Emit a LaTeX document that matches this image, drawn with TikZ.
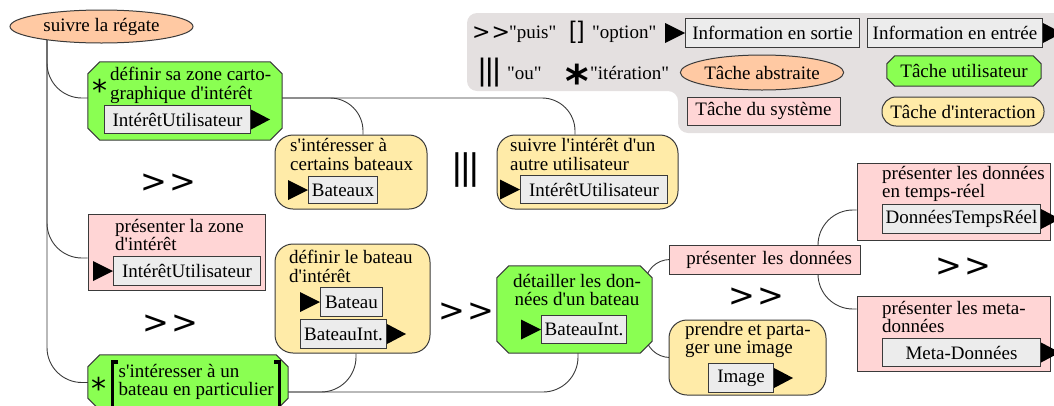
\documentclass[tikz,border=0pt]{standalone}
\usepackage{fontspec}
\setmainfont{Liberation Serif}[Ligatures=TeXOff]
\newfontfamily\symfont{DejaVu Sans}
\newfontfamily\barfont{Liberation Sans}
\usetikzlibrary{shapes.geometric}
\pgfdeclarelayer{panel}
\pgfdeclarelayer{links}
\pgfdeclarelayer{octs}
\pgfsetlayers{panel,links,octs,main}
\definecolor{bordc}{HTML}{3A3A3A}
\definecolor{ugreen}{HTML}{8AFF52}
\definecolor{spink}{HTML}{FFD5D5}
\definecolor{iyellow}{HTML}{FFEBA8}
\definecolor{apeach}{HTML}{FFC9A3}
\definecolor{igray}{HTML}{ECECEC}
\definecolor{legbg}{HTML}{E4E0E0}
\tikzset{
  bord/.style={draw=bordc, line width=1pt},
  usertask/.style={rectangle, inner sep=0pt},
  systask/.style={bord, fill=spink, rectangle, inner sep=0pt},
  intertask/.style={bord, fill=iyellow, rectangle, rounded corners=18pt, inner sep=0pt},
  abstask/.style={bord, fill=apeach, ellipse, inner sep=0pt},
  info/.style={bord, fill=igray, rectangle, inner sep=0pt, anchor=north west},
  title/.style={inner sep=0pt, align=left, anchor=north west},
  plain/.style={inner sep=0pt, anchor=base west},
  seqsym/.style={inner sep=0pt, anchor=base west, font=\symfont\fontsize{32}{32}\selectfont},
  orsym/.style={inner sep=0pt, anchor=base west, font=\barfont\fontsize{37}{37}\selectfont},
  itsym/.style={inner sep=0pt, anchor=base west, font=\symfont\fontsize{30}{30}\selectfont},
  conn/.style={draw=bordc, line width=0.9pt},
  tri/.pic={\fill[black] (0,-10) -- (19,0) -- (0,10) -- cycle;},
  tril/.pic={\fill[black] (-20,-10) -- (0,0) -- (-20,10) -- cycle;},
  brk/.style={line width=3.5pt, black}
}
% green octagon (chamfered box) drawn behind the node named #2
\newcommand\octo[2][11]{%
  \begin{pgfonlayer}{octs}
  \draw[bord, fill=ugreen] ([xshift=#1pt]#2.north west) -- ([xshift=-#1pt]#2.north east)
    -- ([yshift=-#1pt]#2.north east) -- ([yshift=#1pt]#2.south east)
    -- ([xshift=-#1pt]#2.south east) -- ([xshift=#1pt]#2.south west)
    -- ([yshift=#1pt]#2.south west) -- ([yshift=-#1pt]#2.north west) -- cycle;
  \end{pgfonlayer}}
\begin{document}
\begin{tikzpicture}[x=1pt,y=-1pt,font=\fontsize{19}{18.5}\selectfont]
\useasboundingbox (0,0) rectangle (1054,405);

% ---------- legend ----------
\node[seqsym, font=\symfont\fontsize{22}{22}\selectfont] (lseq) at (472,39) {>\kern1pt>};
\node[plain] (lpuis) at (509,38) {"puis"};
\node[plain, font=\barfont\fontsize{24}{24}\selectfont] (lopt) at (569,38.5) {[\kern2pt]};
\node[plain] (loption) at (592,38) {"option"};
\node[info, minimum width=174pt, minimum height=29pt] (lout) at (685,18) {Information en sortie};
\pic at (lout.west) {tril};
\node[info, minimum width=175pt, minimum height=29pt] (lin) at (867,18) {Information en entrée};
\pic at (lin.east) {tri};
\node[orsym, font=\barfont\fontsize{31}{31}\selectfont] (lor) at (478,80.5) {|\kern-0.8pt|\kern-0.8pt|};
\node[plain] (lou) at (507,79) {"ou"};
\node[plain, font=\symfont\bfseries\fontsize{45}{45}\selectfont] (last) at (565,97) {*};
\node[plain] (liter) at (590,79) {"itération"};
\node[abstask, minimum width=148pt, minimum height=35pt] (labs) at (762,72.5) {Tâche abstraite};
\node[usertask, minimum width=154pt, minimum height=30pt] (luser) at (964,71) {Tâche utilisateur};
\octo[8]{luser}
\node[systask, minimum width=153pt, minimum height=28pt] (lsys) at (763.5,111) {Tâche du système};
\node[intertask, rounded corners=14pt, minimum width=162pt, minimum height=29pt] (linter) at (963,111.5) {Tâche d'interaction};

% ---------- tasks ----------
\node[abstask, minimum width=183pt, minimum height=33pt] (root) at (101.5,26.5) {suivre la régate};
\coordinate (trunk) at (47,30);

% définir sa zone
\node[usertask, minimum width=194pt, minimum height=78pt] (zone) at (185,101) {};
\octo[12]{zone}
\node[title] (zonet) at (110,67) {définir sa zone carto-\\graphique d'intérêt};
\node[itsym] (zast) at (92,101.5) {*};
\node[info, minimum width=146pt, minimum height=28pt] (zoneo) at (104,105) {IntérêtUtilisateur};
\pic at (zoneo.east) {tri};

% s'intéresser à certains bateaux
\node[intertask, minimum width=152pt, minimum height=74pt] (cert) at (351,172) {};
\node[title] (certt) at (290,138.5) {s'intéresser à\\certains bateaux};
\node[info, minimum width=69pt, minimum height=27pt] (certi) at (308,176) {Bateaux};
\pic at (certi.west) {tril};

\node[orsym] (or1) at (452,179) {|\kern-1.2pt|\kern-1.2pt|};

% suivre l'intérêt d'un autre utilisateur
\node[intertask, minimum width=181pt, minimum height=74pt] (suiv) at (587.5,172) {};
\node[title] (suivt) at (510,138.5) {suivre l'intérêt d'un\\autre utilisateur};
\node[info, minimum width=147pt, minimum height=28pt] (suivi) at (520,175) {IntérêtUtilisateur};
\pic at (suivi.west) {tril};

\node[seqsym] (seq1) at (140,192.5) {>\kern2pt>};

% présenter la zone d'intérêt
\node[systask, minimum width=177pt, minimum height=76pt] (pzone) at (176.5,252) {};
\node[title] (pzonet) at (115,219) {présenter la zone\\d'intérêt};
\node[info, minimum width=147pt, minimum height=29pt] (pzonei) at (113,256) {IntérêtUtilisateur};
\pic at (pzonei.west) {tril};

\node[seqsym] (seq2) at (142,333.5) {>\kern2pt>};

% s'intéresser à un bateau en particulier
\node[usertask, minimum width=200pt, minimum height=55pt] (bsel) at (188,382.5) {};
\octo[12]{bsel}
\node[title] (bselt) at (118.5,364) {s'intéresser à un\\bateau en particulier};
\node[itsym] (bast) at (91,399.5) {*};
\draw[brk] (118,362) -- (112.5,362) -- (112.5,412) -- (118,412);
\draw[brk] (274,362) -- (279.5,362) -- (279.5,412) -- (274,412);

% définir le bateau d'intérêt
\node[intertask, minimum width=155pt, minimum height=109pt] (defb) at (352.5,298.5) {};
\node[title] (defbt) at (289,250) {définir le bateau\\d'intérêt};
\node[info, minimum width=62pt, minimum height=29pt] (defbi) at (320,287) {Bateau};
\pic at (defbi.west) {tril};
\node[info, minimum width=86pt, minimum height=29pt] (defbo) at (300,319) {BateauInt.};
\pic at (defbo.east) {tri};

\node[seqsym] (seq3) at (438,321.5) {>\kern2pt>};

% détailler les données d'un bateau
\node[usertask, minimum width=155pt, minimum height=87pt] (det) at (574.5,309.5) {};
\octo[12]{det}
\node[inner sep=0pt, align=center, anchor=north] (dett) at (577,274) {détailler les don-\\nées d'un bateau};
\node[info, minimum width=85pt, minimum height=28pt] (deti) at (541,315) {BateauInt.};
\pic at (deti.west) {tril};

% présenter les données
\node[systask, minimum width=191pt, minimum height=29pt, text width=175pt, align=right] (presd) at (764.5,259.5) {présenter les données};

\node[seqsym] (seq4) at (728,306.5) {>\kern2pt>};

% prendre et partager une image
\node[intertask, minimum width=157pt, minimum height=75pt] (prend) at (747.5,357.5) {};
\node[title] (prendt) at (685,322) {prendre et parta-\\ger une image};
\node[info, minimum width=65pt, minimum height=29pt] (prendo) at (708,363) {Image};
\pic at (prendo.east) {tri};

% présenter les données en temps-réel
\node[systask, minimum width=193pt, minimum height=77pt] (trd) at (953.5,201.5) {};
\node[title] (trdt) at (882,166) {présenter les données\\en temps-réel};
\node[info, minimum width=158pt, minimum height=29pt] (trdo) at (882,204) {DonnéesTempsRéel};
\pic at (trdo.east) {tri};

\node[seqsym] (seq5) at (935,276.5) {>\kern2pt>};

% présenter les meta-données
\node[systask, minimum width=193pt, minimum height=75pt] (meta) at (953.5,333.5) {};
\node[title] (metat) at (882,301) {présenter les meta-\\données};
\node[info, minimum width=158pt, minimum height=28pt] (metao) at (882,338) {Meta-Données};
\pic at (metao.east) {tri};

% ---------- legend panel ----------
\begin{pgfonlayer}{panel}
\fill[legbg, rounded corners=10pt] (467,13) -- (1075,13) -- (1075,133) -- (678,133) -- (678,91) -- (467,91) -- cycle;
\end{pgfonlayer}

% ---------- connectors ----------
\begin{pgfonlayer}{links}
\draw[conn, rounded corners=35pt] (trunk) |- (zone.west |- 0,98);
\draw[conn, rounded corners=35pt] (trunk) |- (pzone.west |- 0,258);
\draw[conn, rounded corners=35pt] (trunk) |- (bsel.west);
\draw[conn, rounded corners=33pt] (zone.east |- 0,98) -| (cert.north -| 363,0);
\draw[conn, rounded corners=33pt] (zone.east |- 0,98) -| (suiv.north -| 575,0);
\draw[conn, rounded corners=35pt] (bsel.east |- 0,392) -| (defb.south -| 356,0);
\draw[conn, rounded corners=35pt] (bsel.east |- 0,392) -| (det.south -| 578,0);
\coordinate (detc) at (645,310);
\draw[conn, rounded corners=25pt] (detc) |- (presd.west);
\draw[conn, rounded corners=25pt] (detc) |- (prend.west);
\coordinate (presc) at (818,259);
\draw[conn, rounded corners=35pt] (presc) |- (trd.west |- 0,210);
\draw[conn, rounded corners=35pt] (presc) |- (meta.west |- 0,309);
\end{pgfonlayer}
\end{tikzpicture}
\end{document}
